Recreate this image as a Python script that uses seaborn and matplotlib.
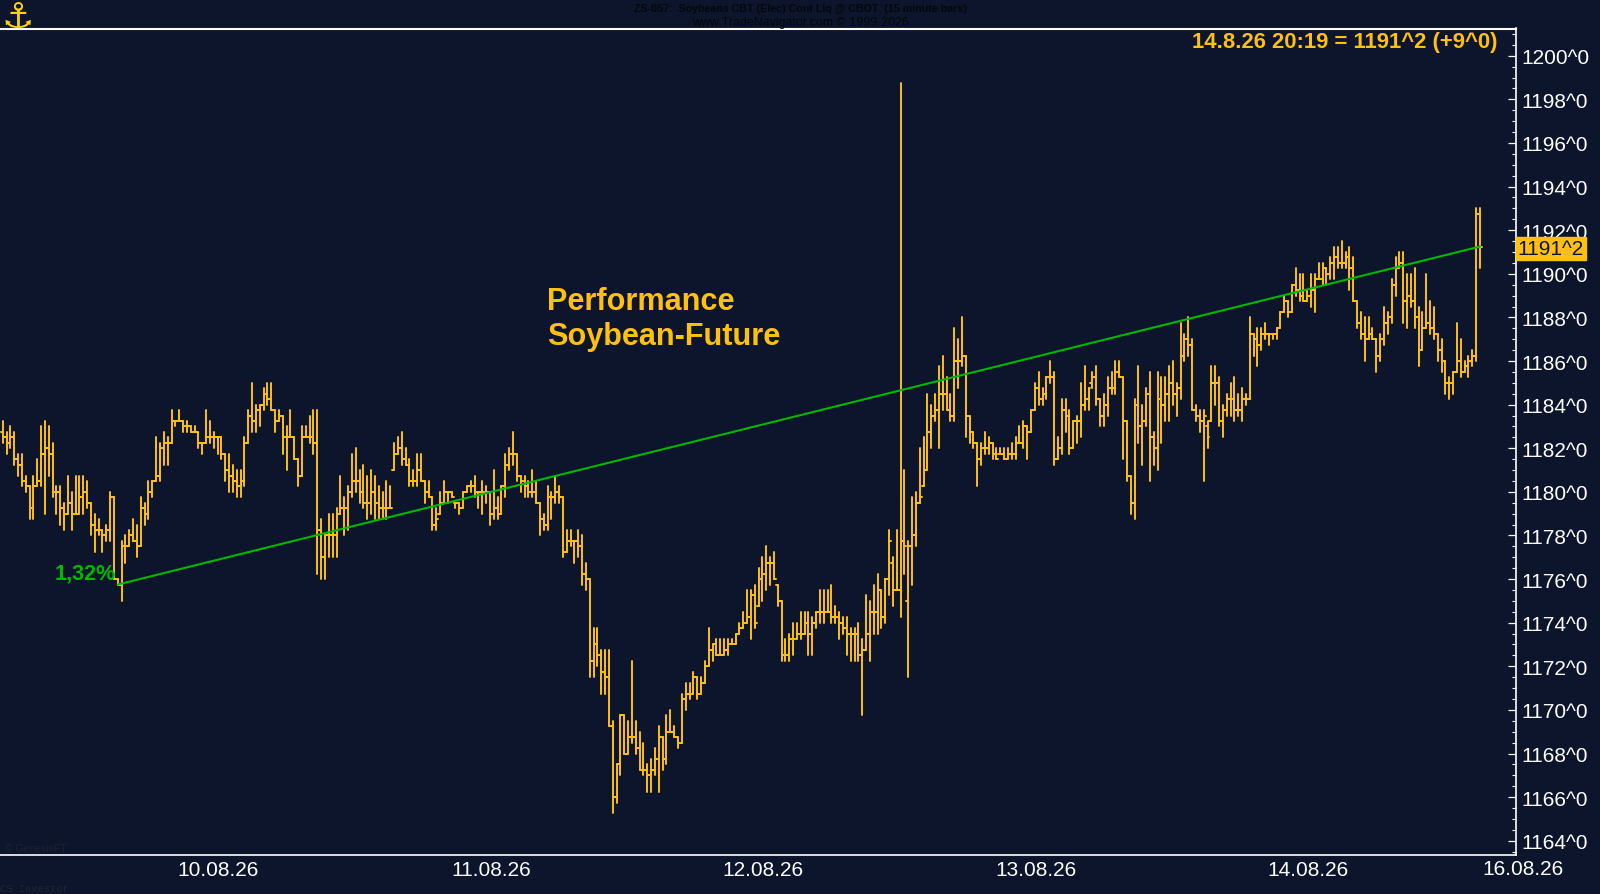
import numpy as np
import pandas as pd
import matplotlib
matplotlib.use('Agg')
import matplotlib.pyplot as plt
import seaborn as sns

# 15 minute bars (1/4 cent steps)
highs = [
1183.25,1182.75,1183,1182.75,1181.75,1181.75,1180.75,1180.25,1180.75,1181.5,
1183,1183.25,1183,1182.25,1180.25,1180.25,1179.5,1180.75,1180,1180.75,
1180.75,1180.75,1180.5,1179.5,1179,1178.75,1178.25,1178.5,1180,1179.75,
1176,1177.75,1178,1178.25,1178.75,1178.5,1179.75,1179.5,1180.5,1180.5,
1182.5,1182.25,1182.75,1182.5,1183.75,1183.25,1183.75,1183.25,1183.25,1183,
1183,1182.75,1182.25,1183.75,1183.25,1182.75,1182.5,1182.5,1181.75,1181.75,
1181.25,1181,1181,1182.5,1183.75,1185,1184,1184,1184.75,1185,
1185,1183.75,1183.75,1183.5,1183,1183.75,1182.5,1181.5,1183,1183,
1183.5,1183.75,1183.75,1178.75,1178,1179,1179,1179.25,1180.75,1179.75,
1180.25,1181.75,1182,1181,1181.25,1180.75,1181,1180.75,1180.25,1180,
1180.5,1180.25,1182.25,1182.5,1182.75,1182,1181.5,1181,1181.75,1181.75,
1180.5,1180.5,1179.75,1179.25,1180,1180.5,1180,1180,1179.5,1179.5,
1180,1180.25,1180.5,1180.75,1180,1180.5,1180.25,1180,1181,1179.75,
1180.25,1181.75,1182,1182.75,1181.75,1180.75,1180.75,1180.5,1181,1180.5,
1179.5,1179,1180.25,1180,1180.75,1180.25,1179.75,1178.25,1178.25,1177.75,
1178.25,1178,1176.75,1176,1173.75,1173.75,1172.75,1172.75,1172.75,1169.5,
1167.5,1169.75,1169.75,1169.5,1172.25,1169.5,1169,1168.5,1167.5,1167.75,
1168.25,1169.25,1168.75,1169.75,1170,1169.25,1168.75,1170.75,1171.25,1171.25,
1171.75,1171.5,1171.5,1172.25,1173.75,1173,1173.25,1173.25,1173.25,1173.25,
1173.25,1173.5,1174,1174.5,1175.5,1175.5,1175.75,1176.5,1177,1177.5,
1177,1177.25,1175.75,1175,1173.25,1173.5,1174,1174,1174.5,1174.5,
1174.5,1174.25,1174.5,1175.5,1175.5,1175.5,1175.75,1174.75,1174.5,1174.25,
1174.25,1173.75,1173.75,1174,1173.25,1175.25,1175,1175.75,1176.25,1175.5,
1176,1178.25,1177,1178.25,1198.75,1181,1177.75,1179.75,1180,1182,
1182.5,1184.5,1184,1184.5,1185.75,1186.25,1185.25,1184.5,1187.5,1187,
1188,1186.25,1183.5,1182.75,1182.25,1182.25,1182.75,1182.5,1182.25,1182,
1182,1182,1182,1182.25,1182.5,1183,1183.25,1183,1183.75,1185,
1185.5,1184.75,1185.25,1186,1185.5,1182.5,1184.25,1184.25,1183.75,1183.25,
1183.5,1185,1185.75,1184.75,1185.5,1185.75,1184.25,1184.5,1185.25,1185.5,
1186,1186,1185.25,1183.25,1180.75,1184.25,1185.75,1184,1184.75,1185.5,
1182.75,1185.5,1185.25,1185.25,1185.75,1186,1185,1187.75,1187.25,1188,
1187,1184,1183.75,1183.75,1183.25,1185.75,1185.75,1185.25,1184,1184.5,
1185,1185.25,1184.5,1184.75,1184.5,1188,1187.25,1187.5,1187.5,1187.75,
1187.25,1187.25,1187.5,1188.25,1189,1188.75,1189.5,1190.25,1190,1190,
1189.25,1190,1190,1190.5,1190.5,1190.25,1190.75,1191.25,1191.25,1191.5,
1191,1191.25,1190.75,1188.75,1188.25,1188,1188,1187.5,1187,1187.25,
1188.5,1188.25,1189.75,1190.75,1191,1191,1190,1190,1190.25,1188.5,
1188.25,1190,1188.75,1188.5,1187.25,1187,1186,1185.25,1185.5,1187.75,
1187,1186,1186.25,1186.5,1193,1193]
lows = [
1182.25,1181.75,1182,1181.25,1180.75,1180.25,1180,1178.75,1178.75,1180.25,
1180.25,1179,1180.75,1179.75,1179,1178.5,1178.25,1179,1178.25,1179,
1179,1179,1179.25,1178,1177.25,1178,1177.25,1177.75,1177.75,1176,
1175.75,1175,1176.75,1177.5,1177.75,1177,1177.5,1178.5,1178.75,1179.75,
1180.5,1180.5,1181.25,1181.25,1182.25,1183,1183.25,1182.75,1182.75,1182.75,
1182.75,1182,1181.75,1182.25,1182.25,1182,1181.75,1181.5,1180.5,1180,
1180,1179.75,1179.75,1180.25,1182.25,1182.75,1182.75,1183,1183.75,1184,
1183.75,1182.75,1183.25,1181.75,1181,1182.5,1181.5,1180.25,1180.75,1182.5,
1182.25,1181.75,1176.25,1176,1176,1177,1177,1177,1179,1178,
1178.25,1179.75,1180,1179.5,1179.25,1178.75,1179,1178.75,1178.75,1178.75,
1178.75,1179.25,1181,1181.75,1181.25,1181.25,1180.25,1180.25,1180.25,1180.5,
1179.5,1179.75,1178.25,1178.25,1179,1179.5,1179.5,1179.75,1179.25,1179,
1179.25,1180,1180,1179.75,1179.25,1179,1179.5,1178.5,1178.75,1178.75,
1179,1179.75,1181,1181.25,1180.5,1180,1179.75,1179.75,1179.75,1179.5,
1178,1178.25,1178.25,1178.75,1179.5,1179.5,1177,1177.25,1177.5,1176.75,
1177,1175.75,1175.5,1171.5,1171.5,1172,1170.75,1170.75,1169.25,1165.25,
1165.75,1167,1168,1168,1168.5,1168,1167.25,1167,1166.25,1166.25,
1167,1166.25,1167.25,1167.5,1169,1168.75,1168.25,1168.5,1170,1170.5,
1170.75,1170.5,1170.75,1171.25,1172,1172.25,1172.5,1172.5,1172.5,1172.5,
1173,1173,1173.5,1173.75,1174,1173.25,1173.75,1174.75,1175,1175.5,
1175.75,1176,1174.75,1172.25,1172.25,1172.25,1172.5,1173.25,1173.25,1173.5,
1172.5,1172.5,1173.75,1174,1174,1174.5,1174,1174,1173.25,1173.5,
1172.5,1172.25,1172.25,1172.25,1169.75,1172.75,1172.25,1173.5,1173.5,1173.75,
1174,1175.25,1174.75,1175.5,1174.25,1176.25,1171.5,1175.75,1177.5,1179.5,
1180.25,1181,1182,1183.25,1182,1183.75,1183.75,1183.25,1183.25,1184.75,
1185.75,1182.5,1182.25,1182,1180.25,1181.25,1181.75,1181.75,1181.5,1181.5,
1181.75,1181.5,1181.5,1181.5,1181.5,1182.25,1182,1181.5,1182.75,1183.75,
1184,1184,1184.25,1185,1181.25,1181.5,1181.75,1182.75,1181.75,1182,
1182.25,1182.5,1183.75,1183.75,1184.75,1184,1183,1183,1183.5,1184.5,
1184.5,1185.25,1181.5,1180.5,1179,1178.75,1182.25,1181.25,1183,1180.5,
1181.25,1181,1182.25,1183.25,1183.25,1184,1183.5,1184.25,1186,1186.25,
1183.75,1183.25,1182.75,1180.5,1182,1183.25,1184,1183,1182.5,1183.5,
1183.5,1183.25,1183.5,1183.25,1184,1184.25,1186.25,1185.75,1186.5,1187,
1186.75,1187,1187,1187.5,1188.25,1188,1188.25,1189,1188.75,1188.75,
1188.75,1188.5,1188.25,1189.75,1189.5,1189.5,1189.75,1189.75,1190.25,1190.25,
1190.25,1189.25,1188.75,1187.5,1187,1186,1187,1187,1185.5,1186,
1186.75,1187.25,1187.75,1189,1190.25,1187.75,1187.5,1188.5,1187.5,1185.75,
1186.5,1187.5,1187.25,1187,1186,1185.5,1184.5,1184.25,1184.5,1185.5,
1185.25,1185.5,1185.25,1185.75,1186,1190.25]
closes = [
1182.5,1182.25,1182.5,1181.5,1181.25,1180.5,1180.25,1179.25,1180.25,1180.5,
1181.75,1182,1181.75,1180,1180,1179.25,1179,1179.5,1179,1179,
1179.75,1180,1179.5,1178.5,1178.25,1178.25,1178,1178.25,1179.75,1176,
1175.75,1177.5,1177.5,1178,1177.75,1177.5,1179.25,1179,1180,1180.5,
1180.75,1182,1182.25,1182.25,1183.25,1183.25,1183.25,1183,1183,1182.75,
1182.75,1182.25,1182.25,1182.5,1182.5,1182.5,1182.5,1181.75,1181,1180.75,
1180.5,1180.25,1180.5,1182.25,1183.5,1183.25,1183.75,1184,1184.5,1184.25,
1183.75,1183.25,1183.5,1182.5,1182.5,1182.5,1181.5,1180.75,1182.5,1182.5,
1182.5,1182.25,1178.25,1177,1178,1178,1178,1179,1179.25,1179.25,
1180,1180.5,1180.5,1180,1179.5,1179.5,1180,1179.5,1179.25,1179.25,
1179.25,1179.25,1181.75,1182,1181.5,1181.25,1180.5,1180.5,1181,1180.5,
1180,1179.75,1178.5,1178.75,1179.5,1180,1180,1179.75,1179.5,1179.25,
1180,1180.25,1180.25,1180,1180,1180,1180,1179,1179.25,1179,
1180.25,1181.25,1181.75,1181.75,1180.75,1180.5,1180.25,1180,1180,1179.5,
1178.75,1178.5,1179.75,1179.75,1180,1179.75,1177.25,1177.75,1177.75,1177.75,
1177.5,1176.25,1176,1172.25,1173,1172.5,1171.75,1171.5,1169.25,1166,
1167.5,1169.75,1168,1168.75,1168.75,1168.25,1167.25,1167.25,1167,1167.25,
1167.75,1168.75,1167.75,1169,1169,1168.75,1168.5,1170.5,1170.75,1170.75,
1171.5,1170.75,1171.25,1172,1172.75,1173,1172.5,1172.5,1172.75,1173,
1173,1173.5,1173.75,1174,1174.25,1175.25,1174,1176,1176.25,1176.75,
1176.75,1176,1175,1172.5,1172.5,1173.25,1173.25,1173.5,1173.5,1174,
1173.5,1174,1174.5,1174.5,1174.5,1174.5,1174.25,1174.25,1174,1173.75,
1173.5,1173.5,1173.5,1172.5,1172.75,1173.5,1174.5,1174.5,1175.5,1174.25,
1176,1177.75,1175.5,1175.5,1177.75,1177.5,1177.5,1178,1179.5,1179.75,
1181,1182.75,1183.5,1183.75,1184.5,1184.5,1183.75,1183.5,1186,1186,
1186.25,1183.5,1182.75,1182.25,1181.5,1182,1182,1182.25,1181.75,1181.5,
1181.75,1181.5,1181.75,1181.75,1182.25,1182.25,1183,1182.75,1183.75,1184.75,
1184.25,1184.5,1185.25,1185.25,1181.5,1182,1183.75,1183.5,1182,1183.25,
1183.25,1184,1184.25,1185,1185.25,1184.25,1183.5,1184,1184.75,1184.75,
1185.5,1185.25,1183.25,1180.75,1179.5,1184,1183,1183.25,1184.5,1182.5,
1182,1184.25,1184,1184.5,1185,1184.5,1184.75,1186.25,1187,1186.75,
1183.75,1183.5,1183.25,1183.5,1182.5,1185,1185,1183.25,1183.75,1184.25,
1184.25,1183.75,1183.75,1184.25,1184.25,1187.25,1187,1186.75,1187.25,1187.25,
1187.25,1187.25,1187.5,1188.25,1188.75,1188.25,1189.5,1189.25,1189,1188.75,
1189,1189.25,1189.75,1189.75,1190.25,1190,1190.5,1190.75,1190.5,1190.5,
1190.75,1190.25,1188.75,1187.75,1187.25,1187,1187.25,1187,1186.25,1187,
1187.75,1188,1189.5,1190.25,1190.5,1188.75,1189,1188.75,1188,1186.5,
1187.5,1187.75,1187.5,1187.25,1186.5,1186,1185,1185,1185.5,1186,
1185.5,1185.75,1186,1186.25,1192.75,1191.25]
opens = [
1182.75,1182.5,1182.25,1182.5,1181.5,1181.25,1180.5,1180.25,1179.25,1180.25,
1180.5,1181.75,1182,1181.75,1180,1180,1179.25,1179,1179.5,1179,
1179,1179.75,1180,1179.5,1178.5,1178.25,1178.25,1178,1178.25,1179.75,
1176,1175.75,1177.5,1177.5,1178,1177.75,1177.5,1179.25,1179,1180,
1180.5,1180.75,1182,1182.25,1182.25,1183.25,1183.25,1183.25,1183,1183,
1182.75,1182.75,1182.25,1182.25,1182.5,1182.5,1182.5,1182.5,1181.75,1181,
1180.75,1180.5,1180.25,1180.5,1182.25,1183.5,1183.25,1183.75,1184,1184.5,
1184.25,1183.75,1183.25,1183.5,1182.5,1182.5,1182.5,1181.5,1180.75,1182.5,
1182.5,1182.5,1182.25,1178.25,1177,1178,1178,1178,1179,1179.25,
1179.25,1180,1180.5,1180.5,1180,1179.5,1179.5,1180,1179.5,1179.25,
1179.25,1179.25,1181,1181.75,1182,1181.5,1181.25,1180.5,1180.5,1181,
1180.5,1180,1179.75,1178.5,1178.75,1179.5,1180,1180,1179.75,1179.5,
1179.25,1180,1180.25,1180.25,1180,1180,1180,1180,1179,1179.25,
1179,1180.25,1181.25,1181.75,1181.75,1180.75,1180.5,1180.25,1180,1180,
1179.5,1178.75,1178.5,1179.75,1179.75,1180,1179.75,1177.25,1177.75,1177.75,
1177.75,1177.5,1176.25,1176,1172.25,1173,1172.5,1171.75,1171.5,1169.25,
1166,1167.5,1169.75,1168,1168.75,1168.75,1168.25,1167.25,1167.25,1167,
1167.25,1167.75,1168.75,1167.75,1169,1169,1168.75,1168.5,1170.5,1170.75,
1170.75,1171.5,1170.75,1171.25,1172,1172.75,1173,1172.5,1172.5,1172.75,
1173,1173,1173.5,1173.75,1174,1174.25,1175.25,1174,1176,1176.25,
1176.75,1176.75,1175.75,1175,1172.5,1172.5,1173.25,1173.25,1173.5,1173.5,
1174,1173.5,1174,1174.5,1174.5,1174.5,1174.5,1174.25,1174.25,1174,
1173.75,1173.5,1173.5,1173.5,1172.5,1172.75,1173.5,1174.5,1174.5,1175.5,
1174.25,1176,1176.75,1175.5,1175.5,1177.75,1175,1177.5,1178,1179.5,
1179.75,1181,1182.75,1183.5,1183.75,1184.5,1184.5,1183.75,1183.5,1186,
1186,1186.25,1183.5,1182.75,1182.25,1181.5,1182,1182,1182.25,1181.75,
1181.5,1181.75,1181.5,1181.75,1181.75,1182.25,1182.25,1183,1182.75,1183.75,
1184.75,1184.25,1184.5,1185.25,1185.25,1181.5,1182,1183.75,1183.5,1182,
1183.25,1183.25,1184,1184.25,1185,1185.25,1184.25,1183.5,1184,1184.75,
1184.75,1185.5,1185.25,1183.25,1180.75,1179.5,1184,1183,1183.25,1184.5,
1182.5,1182,1184.25,1184,1184.5,1185,1184.5,1184.75,1186.25,1187,
1186.75,1183.75,1183.5,1183.25,1183,1182.5,1185,1185,1183.25,1183.75,
1184.25,1184.25,1183.75,1183.75,1184.25,1184.25,1187.25,1187,1186.75,1187.25,
1187.25,1187.25,1187.25,1187.5,1188.25,1188.75,1188.25,1189.5,1189.25,1189,
1188.75,1189,1189.25,1189.75,1189.75,1190.25,1190,1190.5,1190.75,1190.5,
1190.5,1190.75,1190.25,1188.75,1187.75,1187.25,1187,1187.25,1187,1186.25,
1187,1187.75,1188,1189.5,1190.25,1190.5,1188.75,1189,1188.75,1188,
1186.5,1187.5,1187.75,1187.5,1187.25,1186.5,1186,1185,1185,1185.5,
1186,1185.5,1185.75,1186,1186.25,1192.75]

# green performance line, first bar and last bar
trend_bars = [30, 385]
trend_prices = [1175.75, 1191.25]

day_bars = [56.1, 127.3, 198.2, 269.3, 340.2]
day_labels = ['10.08.26', '11.08.26', '12.08.26', '13.08.26', '14.08.26']
last_day_bar = 396.2
last_day_label = '16.08.26'

price_ticks = list(range(1164, 1201, 2))
price_labels = [f'{p}^0' for p in price_ticks]

bg = '#0c152c'
gold = '#ffc012'
green = '#00b800'

sns.set_theme(style='dark', rc={'axes.facecolor': bg, 'figure.facecolor': bg})
plt.rcParams['font.family'] = ['Liberation Sans', 'DejaVu Sans']

fig = plt.figure(figsize=(16, 8.95), dpi=100)
ax = fig.add_axes([0, 1 - 855.7 / 895, 1516 / 1600, (855.7 - 29.5) / 895])

# long table: one unit per stem, open tick and close tick
bars = np.arange(len(highs))
op = np.clip(opens, lows, highs)
cl = np.clip(closes, lows, highs)
stems = pd.DataFrame({'bar': np.r_[bars, bars], 'price': np.r_[highs, lows], 'u': np.r_[bars, bars]})
open_ticks = pd.DataFrame({'bar': np.r_[bars - 0.5, bars], 'price': np.r_[op, op], 'u': np.r_[bars, bars] + 1000})
close_ticks = pd.DataFrame({'bar': np.r_[bars, bars + 0.5], 'price': np.r_[cl, cl], 'u': np.r_[bars, bars] + 2000})
ohlc = pd.concat([stems, open_ticks, close_ticks], ignore_index=True)

sns.lineplot(data=ohlc, x='bar', y='price', units='u', estimator=None, sort=False,
             color=gold, linewidth=1.4, ax=ax, legend=False)
sns.lineplot(x=trend_bars, y=trend_prices, color=green, linewidth=1.5, ax=ax, errorbar=None)

ax.set_xlim(-0.7, 394.4)
ax.set_ylim(1163.36, 1201.25)
ax.set_xlabel('')
ax.set_ylabel('')

ax.yaxis.tick_right()
ax.set_yticks(price_ticks)
ax.set_yticklabels(price_labels)
ax.set_yticks(np.arange(1163.5, 1201.01, 0.5), minor=True)
ax.tick_params(axis='y', which='major', direction='in', length=6, width=0.9, color='white',
               labelcolor='white', labelsize=15, pad=4, right=True)
ax.tick_params(axis='y', which='minor', direction='in', length=3, width=0.8, color='white', right=True)
ax.set_xticks(day_bars)
ax.set_xticklabels(day_labels)
ax.tick_params(axis='x', length=0, labelcolor='white', labelsize=15, pad=3.5)
ax.text(last_day_bar, -0.0165, last_day_label, color='white', fontsize=15, ha='center', va='center',
        transform=ax.get_xaxis_transform(), clip_on=False)

ax.spines['left'].set_visible(False)
ax.spines['top'].set_color('white')
ax.spines['top'].set_linewidth(1.5)
ax.spines['bottom'].set_color('white')
ax.spines['bottom'].set_linewidth(1.2)
ax.spines['right'].set_color('white')
ax.spines['right'].set_linewidth(1.2)

# current price box on the scale
ax.text(1.0012, 1191.15, '1191^2', color=bg, fontsize=15, ha='left', va='center',
        transform=ax.get_yaxis_transform(), clip_on=False, zorder=6,
        bbox=dict(facecolor=gold, edgecolor=gold, pad=1.5))

fig.text(1497 / 1600, 1 - 42.5 / 895, '14.8.26 20:19 = 1191^2 (+9^0)', color=gold, fontsize=15.9,
         fontweight='bold', ha='right', va='center')
fig.text(547 / 1600, 1 - 302.5 / 895, 'Performance', color=gold, fontsize=22.1, fontweight='bold', va='center')
fig.text(547 / 1600, 1 - 337.5 / 895, 'Soybean-Future', color=gold, fontsize=22.1, fontweight='bold', va='center')
fig.text(55 / 1600, 1 - 574 / 895, '1,32%', color=green, fontsize=15.6, fontweight='bold', va='center')

# dark header and footer texts, hardly readable on the background
dark = '#05070d'
fig.text(800 / 1600, 1 - 9 / 895, 'ZS-057:  Soybeans CBT (Elec) Cont Liq @ CBOT  (15 minute bars)', color=dark,
         fontsize=7.7, fontweight='bold', ha='center', va='center')
fig.text(800 / 1600, 1 - 23 / 895, 'www.TradeNavigator.com © 1999-2026', color=dark, fontsize=8.9,
         ha='center', va='center')
fig.text(5 / 1600, 1 - 849 / 895, '© GenesisFT', color='#1c2230', fontsize=7.5, va='center')
fig.text(0, 1 - 889 / 895, 'CS Investor', color='#20242e', fontsize=7.5, family='Liberation Mono', va='center')
fig.text(18 / 1600, 1 - 18 / 895, '⚓', color='#ffd21a', fontsize=26, fontweight='bold', family='DejaVu Sans',
         ha='center', va='center')

fig.savefig('out.png', dpi=100, facecolor=bg)
